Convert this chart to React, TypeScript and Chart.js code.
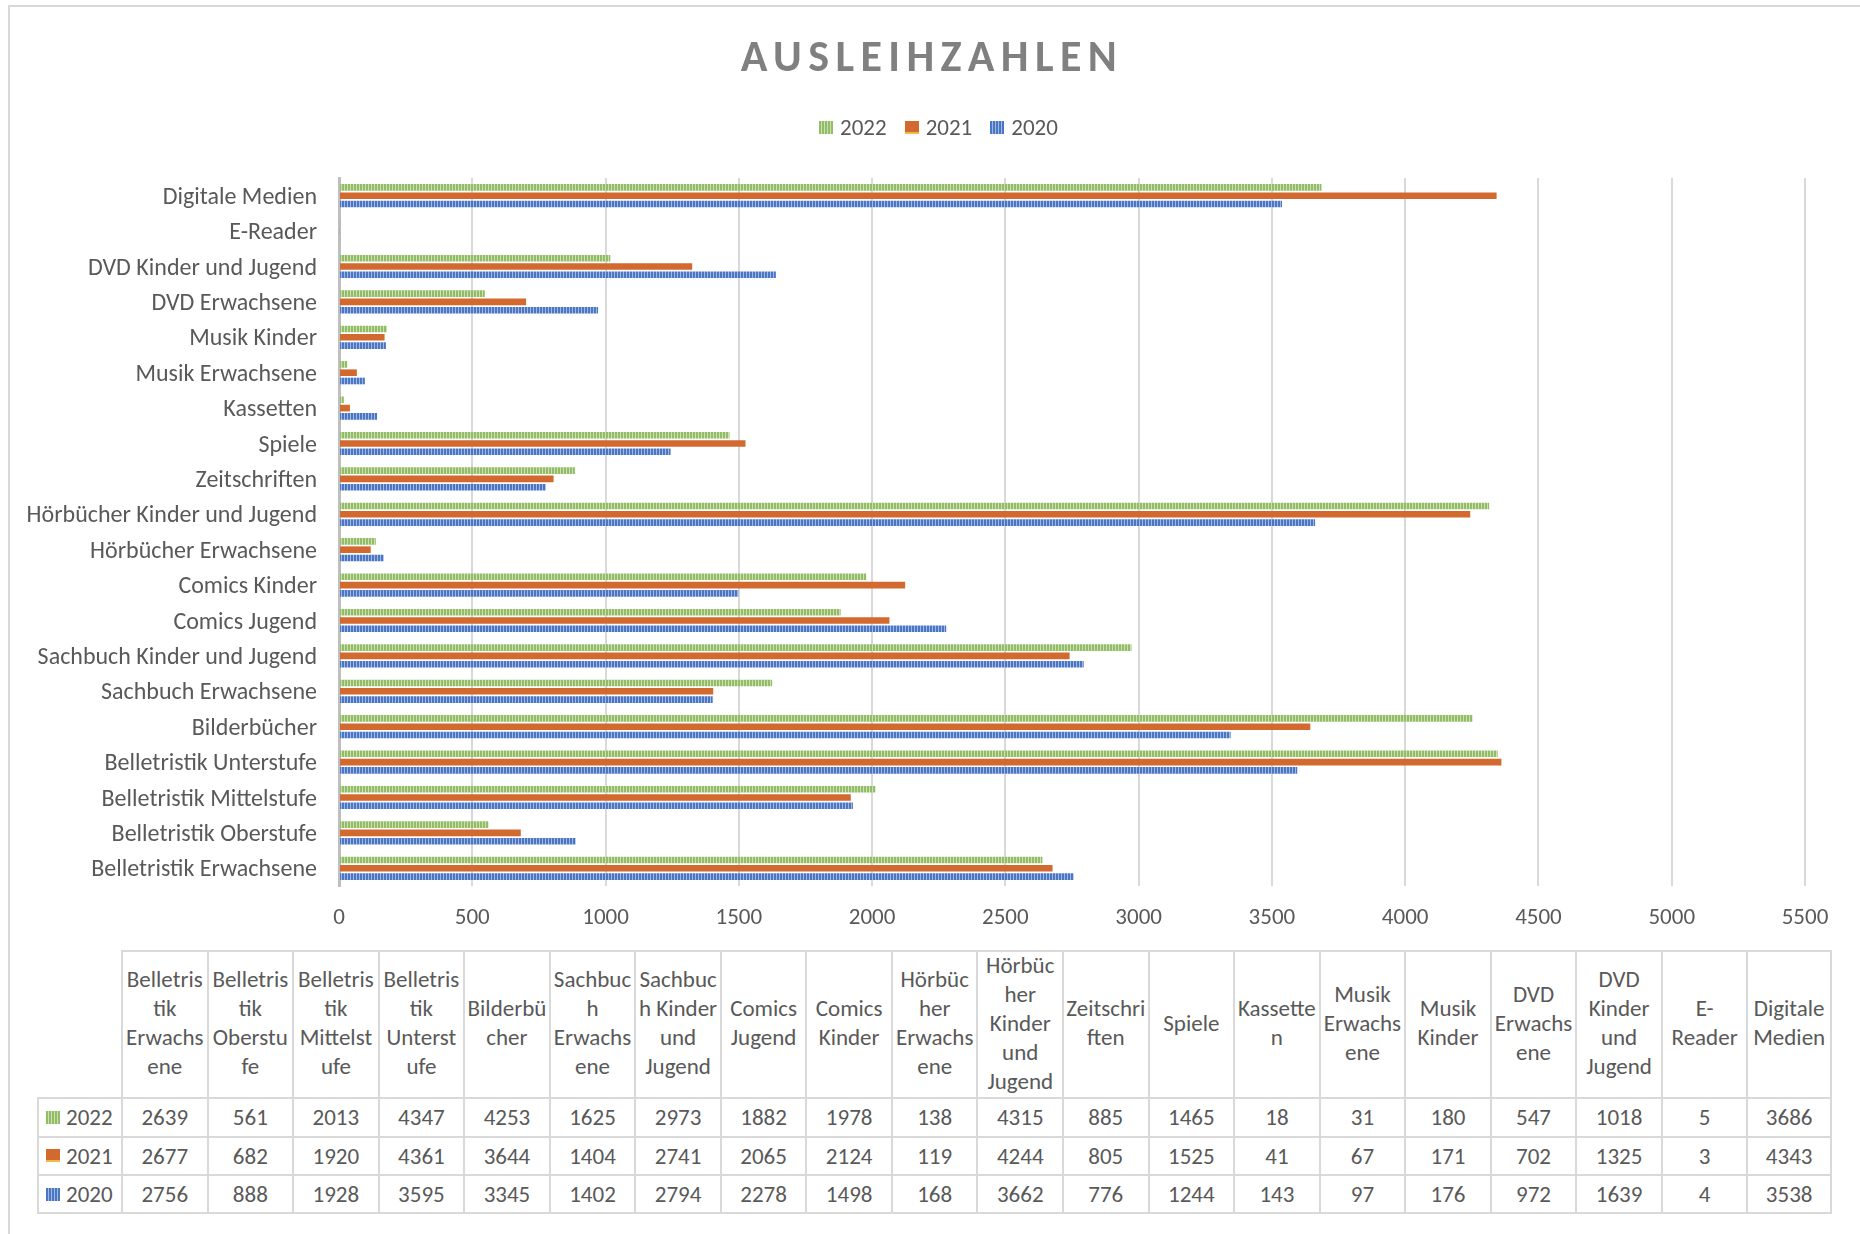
import React, { useEffect, useRef } from "react";
import { Chart, registerables } from "chart.js";

Chart.register(...registerables);

// ---------- data ----------
const categories = [
  "Belletristik Erwachsene",
  "Belletristik Oberstufe",
  "Belletristik Mittelstufe",
  "Belletristik Unterstufe",
  "Bilderbücher",
  "Sachbuch Erwachsene",
  "Sachbuch Kinder und Jugend",
  "Comics Jugend",
  "Comics Kinder",
  "Hörbücher Erwachsene",
  "Hörbücher Kinder und Jugend",
  "Zeitschriften",
  "Spiele",
  "Kassetten",
  "Musik Erwachsene",
  "Musik Kinder",
  "DVD Erwachsene",
  "DVD Kinder und Jugend",
  "E-Reader",
  "Digitale Medien",
];

// header text of the data table, as wrapped in the original
const headerLines = [
  ["Belletris", "tik", "Erwachs", "ene"],
  ["Belletris", "tik", "Oberstu", "fe"],
  ["Belletris", "tik", "Mittelst", "ufe"],
  ["Belletris", "tik", "Unterst", "ufe"],
  ["Bilderbü", "cher"],
  ["Sachbuc", "h", "Erwachs", "ene"],
  ["Sachbuc", "h Kinder", "und", "Jugend"],
  ["Comics", "Jugend"],
  ["Comics", "Kinder"],
  ["Hörbüc", "her", "Erwachs", "ene"],
  ["Hörbüc", "her", "Kinder", "und", "Jugend"],
  ["Zeitschri", "ften"],
  ["Spiele"],
  ["Kassette", "n"],
  ["Musik", "Erwachs", "ene"],
  ["Musik", "Kinder"],
  ["DVD", "Erwachs", "ene"],
  ["DVD", "Kinder", "und", "Jugend"],
  ["E-", "Reader"],
  ["Digitale", "Medien"],
];

const years = ["2022", "2021", "2020"];
const values2022 = [2639, 561, 2013, 4347, 4253, 1625, 2973, 1882, 1978, 138, 4315, 885, 1465, 18, 31, 180, 547, 1018, 5, 3686];
const values2021 = [2677, 682, 1920, 4361, 3644, 1404, 2741, 2065, 2124, 119, 4244, 805, 1525, 41, 67, 171, 702, 1325, 3, 4343];
const values2020 = [2756, 888, 1928, 3595, 3345, 1402, 2794, 2278, 1498, 168, 3662, 776, 1244, 143, 97, 176, 972, 1639, 4, 3538];

const xMin = 0;
const xMax = 5500;
const xStep = 500;

const title = "AUSLEIHZAHLEN";

// ---------- styles ----------
const FONT = "Carlito, Lato, sans-serif";
const TEXT = "#595959";
const LINE = "#d9d9d9";
const FS = 23;

const GREEN_DARK = "#92bc66";
const GREEN_LIGHT = "#cbe0b3";
const ORANGE = "#d2692f";
const BLUE_DARK = "#4a76c4";
const BLUE_LIGHT = "#a0b8e2";

const keyStyles: React.CSSProperties[] = [
  { background: `repeating-linear-gradient(90deg, ${GREEN_DARK} 0px, ${GREEN_DARK} 2px, ${GREEN_LIGHT} 2px, ${GREEN_LIGHT} 3px)` },
  { background: ORANGE, borderBottom: "2px solid #f2b84b", boxSizing: "border-box" },
  { background: `repeating-linear-gradient(90deg, ${BLUE_DARK} 0px, ${BLUE_DARK} 2px, ${BLUE_LIGHT} 2px, ${BLUE_LIGHT} 3px)` },
];

function makePattern(dark: string, light: string): CanvasPattern | string {
  const c = document.createElement("canvas");
  c.width = 3;
  c.height = 4;
  const g = c.getContext("2d");
  if (!g) return dark;
  g.fillStyle = light;
  g.fillRect(0, 0, 3, 4);
  g.fillStyle = dark;
  g.fillRect(0, 0, 2, 4);
  return g.createPattern(c, "repeat") || dark;
}

const CANVAS_W = 1860;
const CANVAS_H = 950;

function BarChart() {
  const ref = useRef<HTMLCanvasElement | null>(null);
  useEffect(() => {
    if (!ref.current) return;
    const rev = <T,>(a: T[]) => a.slice().reverse();
    const chart = new Chart(ref.current, {
      type: "bar",
      data: {
        labels: rev(categories),
        datasets: [
          { label: years[0], data: rev(values2022), backgroundColor: makePattern(GREEN_DARK, GREEN_LIGHT) as any, borderWidth: 0 },
          { label: years[1], data: rev(values2021), backgroundColor: ORANGE, borderWidth: 0 },
          { label: years[2], data: rev(values2020), backgroundColor: makePattern(BLUE_DARK, BLUE_LIGHT) as any, borderWidth: 0 },
        ],
      },
      options: {
        indexAxis: "y",
        responsive: false,
        animation: false,
        devicePixelRatio: 1,
        datasets: { bar: { categoryPercentage: 0.703, barPercentage: 0.8 } },
        layout: { padding: { top: 178, right: 55, bottom: 0, left: 0 } },
        plugins: {
          legend: { display: false },
          title: { display: false },
          tooltip: { enabled: false },
        },
        scales: {
          x: {
            type: "linear",
            min: xMin,
            max: xMax,
            ticks: {
              stepSize: xStep,
              color: TEXT,
              font: { family: FONT, size: FS },
              padding: 18,
              callback: (v: any) => String(v),
            },
            grid: { color: LINE, lineWidth: 2, drawTicks: false },
            border: { display: false },
            afterFit: (scale: any) => {
              scale.height = CANVAS_H - 886;
            },
          },
          y: {
            type: "category",
            ticks: { color: TEXT, font: { family: FONT, size: 24 }, padding: 22, autoSkip: false, labelOffset: 2 },
            grid: { display: false, drawTicks: false },
            border: { display: true, color: "#bfbfbf", width: 3 },
            afterFit: (scale: any) => {
              scale.width = 339;
            },
          },
        },
      },
    });
    return () => chart.destroy();
  }, []);
  return (
    <canvas
      ref={ref}
      width={CANVAS_W}
      height={CANVAS_H}
      style={{ position: "absolute", left: 0, top: 0, width: CANVAS_W, height: CANVAS_H }}
    />
  );
}

function DataTable() {
  const colW = 85.55;
  const firstW = 84;
  const headerH = 147;
  const rowH = 38.5;
  const rows = [values2022, values2021, values2020];
  const border = `2px solid ${LINE}`;
  const cells: React.ReactNode[] = [];
  cells.push(<div key="blank" />);
  headerLines.forEach((lines, i) => {
    cells.push(
      <div
        key={`h${i}`}
        style={{
          borderTop: border,
          borderLeft: border,
          borderRight: i === headerLines.length - 1 ? border : undefined,
          boxSizing: "border-box",
          display: "flex",
          flexDirection: "column",
          justifyContent: "center",
          alignItems: "center",
          paddingBottom: 3,
        }}
      >
        {lines.map((l, j) => (
          <div key={j} style={{ lineHeight: "29px", whiteSpace: "nowrap" }}>
            {l}
          </div>
        ))}
      </div>
    );
  });
  rows.forEach((vals, r) => {
    const last = r === rows.length - 1;
    cells.push(
      <div
        key={`rh${r}`}
        style={{
          borderTop: border,
          borderLeft: border,
          borderBottom: last ? border : undefined,
          boxSizing: "border-box",
          display: "flex",
          alignItems: "center",
          paddingLeft: 7,
        }}
      >
        <span style={{ display: "inline-block", width: 14, height: 13, marginRight: 6, ...keyStyles[r] }} />
        <span>{years[r]}</span>
      </div>
    );
    vals.forEach((v, i) => {
      cells.push(
        <div
          key={`c${r}-${i}`}
          style={{
            borderTop: border,
            borderLeft: border,
            borderRight: i === vals.length - 1 ? border : undefined,
            borderBottom: last ? border : undefined,
            boxSizing: "border-box",
            display: "flex",
            alignItems: "center",
            justifyContent: "center",
          }}
        >
          {v}
        </div>
      );
    });
  });
  return (
    <div
      style={{
        position: "absolute",
        left: 37,
        top: 950,
        display: "grid",
        gridTemplateColumns: `${firstW}px repeat(${headerLines.length}, ${colW}px)`,
        gridTemplateRows: `${headerH}px ${rowH}px ${rowH}px ${rowH + 1.5}px`,
        fontFamily: FONT,
        fontSize: FS,
        lineHeight: "28px",
        color: TEXT,
      }}
    >
      {cells}
    </div>
  );
}

export default function App() {
  return (
    <div
      style={{
        position: "absolute",
        left: 0,
        top: 0,
        width: 1860,
        height: 1234,
        overflow: "hidden",
        background: "#ffffff",
        fontFamily: FONT,
      }}
    >
      <div
        style={{
          position: "absolute",
          left: 8,
          top: 5,
          width: 1870,
          height: 1250,
          borderLeft: `2px solid ${LINE}`,
          borderTop: `2px solid ${LINE}`,
        }}
      />
      <BarChart />
      <div
        style={{
          position: "absolute",
          left: 8,
          width: 1848,
          top: 34,
          textAlign: "center",
          fontSize: 44,
          lineHeight: "44px",
          fontWeight: 700,
          letterSpacing: "6.4px",
          color: "#808080",
        }}
      >
        {title}
      </div>
      <div
        style={{
          position: "absolute",
          left: 819,
          top: 113,
          display: "flex",
          alignItems: "center",
          gap: 18,
          fontSize: FS,
          lineHeight: "28px",
          color: TEXT,
        }}
      >
        {years.map((y, i) => (
          <div key={y} style={{ display: "flex", alignItems: "center" }}>
            <span style={{ display: "inline-block", width: 14, height: 13, marginRight: 7, ...keyStyles[i] }} />
            <span>{y}</span>
          </div>
        ))}
      </div>
      <DataTable />
    </div>
  );
}
